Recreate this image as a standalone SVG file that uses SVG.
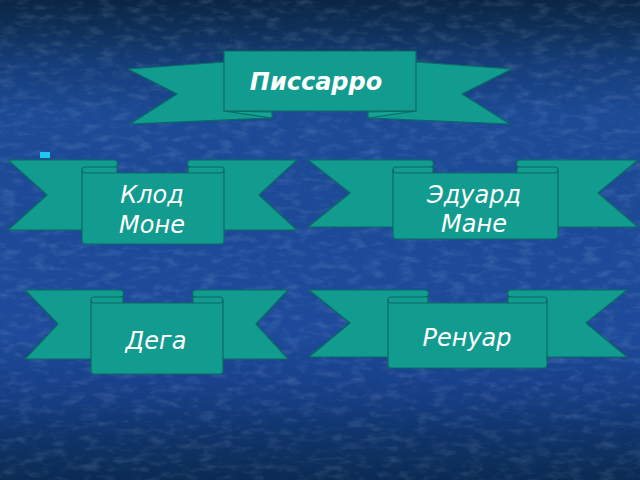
<svg xmlns="http://www.w3.org/2000/svg" width="640" height="480" viewBox="0 0 640 480">
  <defs>
    <linearGradient id="bg" x1="0" y1="0" x2="0" y2="1">
      <stop offset="0" stop-color="#0b2644"/>
      <stop offset="0.06" stop-color="#0e3058"/>
      <stop offset="0.13" stop-color="#153d78"/>
      <stop offset="0.24" stop-color="#1c4a95"/>
      <stop offset="0.7" stop-color="#1d4a9a"/>
      <stop offset="0.82" stop-color="#173f86"/>
      <stop offset="0.91" stop-color="#0f3468"/>
      <stop offset="1" stop-color="#0b2b54"/>
    </linearGradient>
    <filter id="noise" x="0" y="0" width="100%" height="100%">
      <feTurbulence type="fractalNoise" baseFrequency="0.06 0.14" numOctaves="4" seed="11"/>
      <feColorMatrix type="matrix" values="0 0 0 0 0.65  0 0 0 0 0.75  0 0 0 0 1  0 0 0 1.5 -0.7"/>
    </filter>
    <style>
      .rib { fill: #129b8f; stroke: #0a6b63; stroke-width: 1.2; stroke-linejoin: round; }
      .fold { fill: #17a497; stroke: #0a6b63; stroke-width: 1.2; stroke-linejoin: round; }
      .det { fill: none; stroke: #0a6b63; stroke-width: 1.2; }
      .lbl { font-family: "DejaVu Sans", Verdana, sans-serif; font-size: 24px; font-style: italic; fill: #ffffff; text-anchor: middle; }
      .bold { font-weight: bold; }
    </style>
  </defs>

  <rect x="0" y="0" width="640" height="480" fill="url(#bg)"/>
  <rect x="0" y="0" width="640" height="480" filter="url(#noise)" opacity="0.22"/>

  <rect id="bullet" x="40" y="152" width="10" height="6" fill="#1ec8f0"/>

  <g id="connectors"></g>

  <g id="node-pissarro">
    <path class="rib" d="M224,62 L128,69 L177,94 L130,124 L272,118 L272,112 Z"/>
    <path class="rib" d="M416,62 L512,69 L462,94 L510,124 L368,118 L368,112 Z"/>
    <path class="fold" d="M224,111 L272,112 L272,118 Z"/>
    <path class="fold" d="M416,111 L368,112 L368,118 Z"/>
    <rect class="rib" x="224" y="51" width="192" height="60"/>
    <text class="lbl bold" x="316" y="90">Писсарро</text>
  </g>

  <g id="node-monet">
    <path class="rib" d="M8,160 L114,160 A3.5,3.5 0 0 1 114,167 L114,230 L8,230 L47,195 Z"/>
    <path class="rib" d="M297,160 L191,160 A3.5,3.5 0 0 0 191,167 L191,230 L297,230 L259,195 Z"/>
    <path class="rib" d="M82,170 A3.5,3 0 0 1 85.5,167 L117,167 L117,173 L188,173 L188,167 L220.5,167 A3.5,3 0 0 1 224,170 L224,241 Q224,244 221,244 L85,244 Q82,244 82,241 Z"/>
    <path class="det" d="M82,170 A3.5,3 0 0 0 85.5,173 L117,173 M224,170 A3.5,3 0 0 1 220.5,173 L188,173"/>
    <text class="lbl" x="152" y="203">Клод</text>
    <text class="lbl" x="152" y="233">Моне</text>
  </g>

  <g id="node-manet">
    <path class="rib" d="M308,160 L430,160 A3.5,3.5 0 0 1 430,167 L430,227 L308,227 L350,193 Z"/>
    <path class="rib" d="M638,160 L520,160 A3.5,3.5 0 0 0 520,167 L520,227 L638,227 L598,193 Z"/>
    <path class="rib" d="M393,170 A3.5,3 0 0 1 396.5,167 L433,167 L433,173 L517,173 L517,167 L554.5,167 A3.5,3 0 0 1 558,170 L558,236 Q558,239 555,239 L396,239 Q393,239 393,236 Z"/>
    <path class="det" d="M393,170 A3.5,3 0 0 0 396.5,173 L433,173 M558,170 A3.5,3 0 0 1 554.5,173 L517,173"/>
    <text class="lbl" x="474" y="203">Эдуард</text>
    <text class="lbl" x="474" y="232">Мане</text>
  </g>

  <g id="node-degas">
    <path class="rib" d="M25,290 L120,290 A3.5,3.5 0 0 1 120,297 L120,359 L25,359 L58,324 Z"/>
    <path class="rib" d="M288,290 L196,290 A3.5,3.5 0 0 0 196,297 L196,359 L288,359 L256,324 Z"/>
    <path class="rib" d="M91,300 A3.5,3 0 0 1 94.5,297 L123,297 L123,303 L193,303 L193,297 L219.5,297 A3.5,3 0 0 1 223,300 L223,371 Q223,374 220,374 L94,374 Q91,374 91,371 Z"/>
    <path class="det" d="M91,300 A3.5,3 0 0 0 94.5,303 L123,303 M223,300 A3.5,3 0 0 1 219.5,303 L193,303"/>
    <text class="lbl" x="156" y="349">Дега</text>
  </g>

  <g id="node-renoir">
    <path class="rib" d="M309,290 L425,290 A3.5,3.5 0 0 1 425,297 L425,357 L309,357 L350,323 Z"/>
    <path class="rib" d="M627,290 L511,290 A3.5,3.5 0 0 0 511,297 L511,357 L627,357 L586,323 Z"/>
    <path class="rib" d="M388,300 A3.5,3 0 0 1 391.5,297 L428,297 L428,303 L508,303 L508,297 L543.5,297 A3.5,3 0 0 1 547,300 L547,365 Q547,368 544,368 L391,368 Q388,368 388,365 Z"/>
    <path class="det" d="M388,300 A3.5,3 0 0 0 391.5,303 L428,303 M547,300 A3.5,3 0 0 1 543.5,303 L508,303"/>
    <text class="lbl" x="467" y="346">Ренуар</text>
  </g>
</svg>
